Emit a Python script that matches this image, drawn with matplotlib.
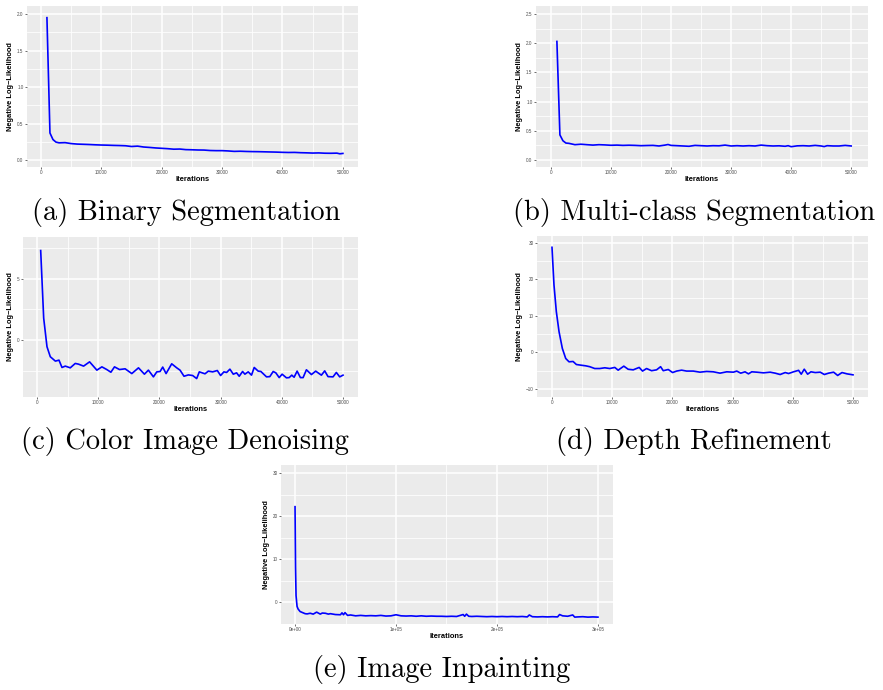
import matplotlib
matplotlib.use("Agg")
import matplotlib.pyplot as plt
from matplotlib.ticker import FixedLocator, FixedFormatter

# ---------------- data ----------------
# (a) Binary Segmentation
a_x = [1000, 1500, 2000, 2500, 3000, 4000, 5000, 6000, 7000, 8000, 9000, 10000,
       11000, 12000, 13000, 14000, 15000, 16000, 17000, 18000, 19000, 20000,
       21000, 22000, 23000, 24000, 25000, 26000, 27000, 28000, 29000, 30000,
       31000, 32000, 33000, 34000, 35000, 36000, 37000, 38000, 39000, 40000,
       41000, 42000, 43000, 44000, 45000, 46000, 47000, 48000, 49000, 49500, 50000]
a_y = [1.95, 0.37, 0.28, 0.245, 0.235, 0.238, 0.225, 0.218, 0.215, 0.212, 0.208, 0.205,
       0.203, 0.200, 0.198, 0.195, 0.185, 0.190, 0.178, 0.172, 0.165, 0.160,
       0.155, 0.148, 0.150, 0.142, 0.140, 0.137, 0.136, 0.130, 0.128, 0.128,
       0.124, 0.118, 0.120, 0.117, 0.115, 0.114, 0.112, 0.110, 0.108, 0.105,
       0.103, 0.104, 0.100, 0.098, 0.095, 0.097, 0.093, 0.092, 0.094, 0.085, 0.090]

# (b) Multi-class Segmentation
b_x = [1000, 1500, 2000, 2500, 3000, 4000, 5000, 6000, 7000, 8000, 9000, 10000,
       11000, 12000, 13000, 14000, 15000, 16000, 17000, 18000, 19000, 19500, 20000,
       21000, 22000, 23000, 24000, 25000, 26000, 27000, 28000, 29000, 30000,
       31000, 32000, 33000, 34000, 35000, 36000, 37000, 38000, 39000, 39500, 40000,
       41000, 42000, 43000, 44000, 45000, 45500, 46000, 47000, 48000, 49000, 50000]
b_y = [2.03, 0.43, 0.33, 0.29, 0.285, 0.262, 0.270, 0.262, 0.255, 0.262, 0.258, 0.252,
       0.255, 0.250, 0.253, 0.250, 0.245, 0.248, 0.250, 0.240, 0.255, 0.265, 0.250,
       0.245, 0.240, 0.235, 0.250, 0.245, 0.240, 0.245, 0.243, 0.255, 0.240,
       0.245, 0.240, 0.245, 0.240, 0.255, 0.245, 0.240, 0.243, 0.235, 0.245, 0.228,
       0.242, 0.245, 0.240, 0.250, 0.240, 0.230, 0.245, 0.240, 0.240, 0.250, 0.240]

# (c) Color Image Denoising
c_x = [600, 1090, 1630, 2170, 3000, 3590, 4080, 4620, 5430, 6250, 6790, 7610, 8590,
       9780, 10600, 11400, 12070, 12660, 13480, 14400, 15490, 16580, 17550, 18200,
       19020, 19570, 20110, 20540, 21090, 22010, 22830, 23370, 24020, 24730, 25430,
       26090, 26520, 27450, 27990, 28700, 29460, 30000, 30540, 30980, 31520, 32070,
       32610, 33040, 33590, 33970, 34510, 35050, 35490, 36140, 36580, 37500, 38040,
       38590, 39020, 39570, 40050, 40760, 41200, 41630, 42010, 42500, 43040, 43480,
       44020, 44840, 45540, 46090, 46470, 47010, 47550, 48370, 48910, 49460, 50000]
c_y = [7.33, 1.79, -0.55, -1.37, -1.73, -1.65, -2.25, -2.14, -2.28, -1.92, -1.98, -2.14, -1.79,
       -2.47, -2.20, -2.42, -2.64, -2.20, -2.42, -2.36, -2.75, -2.28, -2.80, -2.47,
       -3.02, -2.61, -2.58, -2.22, -2.75, -1.95, -2.28, -2.47, -2.97, -2.86, -2.91,
       -3.16, -2.61, -2.77, -2.55, -2.61, -2.50, -2.91, -2.61, -2.66, -2.39, -2.80,
       -2.69, -2.97, -2.58, -2.80, -2.61, -2.88, -2.25, -2.55, -2.58, -3.02, -3.00,
       -2.58, -2.69, -3.08, -2.80, -3.10, -3.08, -2.88, -3.05, -2.55, -3.08, -3.08,
       -2.44, -2.83, -2.55, -2.75, -2.88, -2.53, -3.00, -3.02, -2.66, -3.02, -2.88]

# (d) Depth Refinement
d_x = [0, 330, 720, 1170, 1720, 2280, 2830, 3500, 4050, 4880, 5600, 6270, 7100, 7940,
       8770, 9600, 10430, 10990, 11930, 12650, 13490, 14480, 15040, 15710, 16540,
       17370, 18040, 18480, 19310, 20030, 20700, 21530, 22360, 23470, 24580, 25690,
       26800, 27910, 29020, 30130, 30690, 31350, 32070, 32630, 33180, 34020, 35130,
       36240, 37070, 37900, 38740, 39290, 40120, 40960, 41400, 41900, 42460, 43010,
       43730, 44560, 45230, 45950, 46780, 47450, 48170, 49000, 50000]
d_y = [28.8, 18.5, 11.2, 5.7, 1.1, -1.65, -2.56, -2.47, -3.3, -3.5, -3.66, -3.9, -4.4, -4.4,
       -4.2, -4.4, -4.1, -4.85, -3.75, -4.6, -4.76, -4.1, -5.1, -4.4, -5.0,
       -4.76, -3.9, -5.0, -4.67, -5.5, -5.1, -4.85, -5.1, -5.1, -5.4, -5.2,
       -5.3, -5.67, -5.3, -5.4, -5.1, -5.67, -5.3, -5.86, -5.3, -5.4, -5.58,
       -5.4, -5.67, -6.04, -5.5, -5.77, -5.3, -4.9, -5.95, -4.58, -5.95, -5.3,
       -5.5, -5.4, -6.04, -5.67, -5.4, -6.3, -5.5, -5.86, -6.13]

# (e) Image Inpainting
e_x = [0, 500, 1000, 2000, 3000, 5000, 8000, 10000, 12000, 15000, 18000, 21400, 25000,
       27000, 30000, 33000, 35000, 40000, 45000, 46500, 48000, 49500, 52000, 55000,
       60000, 65000, 70000, 75000, 80000, 85000, 90000, 95000, 100000, 105000,
       110000, 115000, 120000, 125000, 130000, 135000, 140000, 145000, 150000,
       155000, 160000, 166500, 168000, 169800, 172000, 175000, 180000, 185000,
       190000, 195000, 200000, 205000, 210000, 215000, 220000, 225000, 230000,
       232000, 235000, 240000, 245000, 250000, 255000, 260000, 262000, 265000,
       270000, 275000, 277000, 280000, 285000, 290000, 295000, 300000]
e_y = [22.2, 8.0, 1.5, -1.0, -1.6, -2.2, -2.5, -2.7, -2.75, -2.6, -2.8, -2.34, -2.8,
       -2.55, -2.6, -2.8, -2.7, -2.9, -2.95, -2.5, -2.95, -2.45, -3.1, -3.0,
       -3.2, -3.1, -3.2, -3.15, -3.2, -3.1, -3.25, -3.2, -2.95, -3.2,
       -3.25, -3.2, -3.3, -3.2, -3.3, -3.25, -3.3, -3.3, -3.35,
       -3.3, -3.35, -2.9, -3.3, -2.8, -3.3, -3.35, -3.3, -3.35,
       -3.4, -3.35, -3.4, -3.35, -3.4, -3.35, -3.4, -3.35, -3.45,
       -3.0, -3.4, -3.45, -3.4, -3.45, -3.4, -3.45, -2.9, -3.2,
       -3.3, -3.0, -3.5, -3.45, -3.4, -3.5, -3.45, -3.5]

x_ticks_50k = [0, 10000, 20000, 30000, 40000, 50000]
x_labels_50k = ["0", "10000", "20000", "30000", "40000", "50000"]
x_minor_50k = [5000, 15000, 25000, 35000, 45000]
x_ticks_3e5 = [0, 100000, 200000, 300000]
x_labels_3e5 = ["0e+00", "1e+05", "2e+05", "3e+05"]
x_minor_3e5 = [50000, 150000, 250000]

captions = ["(a) Binary Segmentation", "(b) Multi-class Segmentation",
            "(c) Color Image Denoising", "(d) Depth Refinement",
            "(e) Image Inpainting"]

# ---------------- figure ----------------
W, H = 883, 690
fig = plt.figure(figsize=(W / 100, H / 100), dpi=100)
fig.patch.set_facecolor("white")


def add_ax(x0, y0, x1, y1):
    return fig.add_axes([x0 / W, 1 - y1 / H, (x1 - x0) / W, (y1 - y0) / H])


SANS = ["Liberation Sans", "DejaVu Sans"]


def style(ax, x, y, xlim, ylim, xt, xl, xm, yt, yl, ym):
    ax.set_facecolor("#EBEBEB")
    for s in ax.spines.values():
        s.set_visible(False)
    ax.plot(x, y, color="#0000FF", lw=1.2, solid_joinstyle="round", zorder=3)
    ax.set_xlim(*xlim)
    ax.set_ylim(*ylim)
    ax.xaxis.set_major_locator(FixedLocator(xt))
    ax.xaxis.set_major_formatter(FixedFormatter(xl))
    ax.xaxis.set_minor_locator(FixedLocator(xm))
    ax.yaxis.set_major_locator(FixedLocator(yt))
    ax.yaxis.set_major_formatter(FixedFormatter(yl))
    ax.yaxis.set_minor_locator(FixedLocator(ym))
    ax.grid(True, which="major", color="white", lw=1.1, zorder=0)
    ax.grid(True, which="minor", color="white", lw=0.55, zorder=0)
    ax.set_axisbelow(True)
    ax.tick_params(which="major", length=1.5, width=0.5, color="#333333",
                   labelsize=3.3, labelcolor="#4D4D4D", pad=1)
    ax.tick_params(which="minor", length=0)
    for lab in ax.get_xticklabels() + ax.get_yticklabels():
        lab.set_family(SANS)
    ax.set_xlabel("Iterations", fontsize=5.4, fontweight="bold", family=SANS,
                  labelpad=0.5)
    ax.set_ylabel("Negative Log\u2212Likelihood", fontsize=5.4, fontweight="bold",
                  family=SANS, labelpad=2)


# (a)
ax = add_ax(27, 6, 358, 167)
style(ax, a_x, a_y, (-2300, 52500), (-0.096, 2.11),
      x_ticks_50k, x_labels_50k, x_minor_50k,
      [0, 0.5, 1.0, 1.5, 2.0], ["0.0", "0.5", "1.0", "1.5", "2.0"],
      [0.25, 0.75, 1.25, 1.75])

# (b)
ax = add_ax(536, 6, 868, 167)
style(ax, b_x, b_y, (-2480, 52800), (-0.12, 2.637),
      x_ticks_50k, x_labels_50k, x_minor_50k,
      [0, 0.5, 1.0, 1.5, 2.0, 2.5], ["0.0", "0.5", "1.0", "1.5", "2.0", "2.5"],
      [0.25, 0.75, 1.25, 1.75, 2.25])

# (c)
ax = add_ax(23, 237, 358, 397)
style(ax, c_x, c_y, (-2290, 52450), (-4.67, 8.44),
      x_ticks_50k, x_labels_50k, x_minor_50k,
      [0, 5], ["0", "5"], [-2.5, 2.5, 7.5])

# (d)
ax = add_ax(537, 236, 868, 397)
style(ax, d_x, d_y, (-2490, 52490), (-12.2, 31.9),
      x_ticks_50k, x_labels_50k, x_minor_50k,
      [-10, 0, 10, 20, 30], ["\u221210", "0", "10", "20", "30"],
      [-5, 5, 15, 25])

# (e)
ax = add_ax(281, 465, 613, 624)
style(ax, e_x, e_y, (-13900, 314900), (-5.1, 31.9),
      x_ticks_3e5, x_labels_3e5, x_minor_3e5,
      [0, 10, 20, 30], ["0", "10", "20", "30"], [-5, 5, 15, 25])

# captions
SERIF = ["cmr10", "DejaVu Serif"]
cap_pos = [(186, 212), (694, 212), (185, 441), (694, 441), (442, 669)]
for txt, (cx, cy) in zip(captions, cap_pos):
    fig.text(cx / W, 1 - cy / H, txt, ha="center", va="center",
             fontsize=20.5, family=SERIF, color="black")

fig.savefig("out.png", dpi=100, facecolor="white")
